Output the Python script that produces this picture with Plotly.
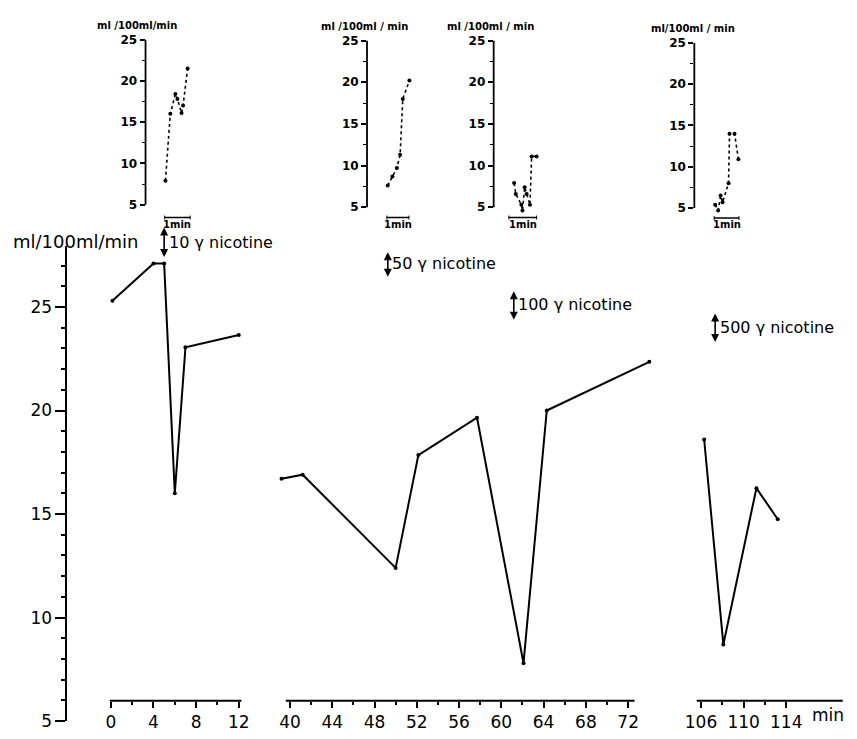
import plotly.graph_objects as go

W, H = 857, 739
FONT = "DejaVu Sans"

# ---------------- data ----------------
# main chart: blood flow (ml/100ml/min) vs time (min), three broken segments
seg1_t = [0.15, 4, 5, 6, 7, 12]
seg1_v = [25.3, 27.1, 27.1, 16.0, 23.05, 23.65]
seg2_t = [39.2, 41.2, 50.0, 52.15, 57.7, 62.1, 64.3, 74.0]
seg2_v = [16.7, 16.9, 12.4, 17.85, 19.65, 7.8, 20.0, 22.35]
seg3_t = [106.3, 108.1, 111.2, 113.2]
seg3_v = [18.6, 8.7, 16.25, 14.75]

# insets: fast recordings after each injection (time in min)
ins1_t = [0.03, 0.22, 0.42, 0.50, 0.66, 0.72, 0.90]
ins1_v = [7.9, 16.0, 18.4, 17.8, 16.1, 17.0, 21.5]
ins2_t = [0.04, 0.25, 0.45, 0.60, 0.72, 1.02]
ins2_v = [7.6, 8.7, 9.7, 11.3, 18.0, 20.2]
ins3_t = [0.19, 0.25, 0.45, 0.49, 0.57, 0.64, 0.76, 0.82, 1.0]
ins3_v = [7.9, 6.6, 5.3, 4.6, 7.4, 6.6, 5.3, 11.1, 11.1]
ins4_t = [0.04, 0.16, 0.26, 0.34, 0.58, 0.62, 0.82, 0.98]
ins4_v = [5.4, 4.7, 6.5, 5.7, 8.0, 14.0, 14.0, 10.9]

# injections: time and label
inj_time = [5.0, 49.26, 61.18, 107.33]
inj_label = ["10 γ nicotine", "50 γ nicotine", "100 γ nicotine", "500 γ nicotine"]

x1_ticks = [0, 4, 8, 12]
x2_ticks = [40, 44, 48, 52, 56, 60, 64, 68, 72]
x3_ticks = [106, 110, 114]
y_ticks = [5, 10, 15, 20, 25]
ins_ticks = [5, 10, 15, 20, 25]
y_title = "ml/100ml/min"
ins_title = ["ml /100ml/min", "ml /100ml / min", "ml /100ml / min", "ml/100ml / min"]


def px(x):
    return x / W


def py(y):
    return 1 - y / H


fig = go.Figure()

line_main = dict(color="black", width=2)
mk_main = dict(color="black", size=4)
fig.add_trace(go.Scatter(x=seg1_t, y=seg1_v, xaxis="x", yaxis="y", mode="lines+markers",
                         line=line_main, marker=mk_main))
fig.add_trace(go.Scatter(x=seg2_t, y=seg2_v, xaxis="x2", yaxis="y", mode="lines+markers",
                         line=line_main, marker=mk_main))
fig.add_trace(go.Scatter(x=seg3_t, y=seg3_v, xaxis="x3", yaxis="y", mode="lines+markers",
                         line=line_main, marker=mk_main))

line_ins = dict(color="black", width=1.6, dash="3px,3px")
mk_ins = dict(color="black", size=4)
for i, (t, v) in enumerate([(ins1_t, ins1_v), (ins2_t, ins2_v), (ins3_t, ins3_v), (ins4_t, ins4_v)]):
    n = i + 4
    fig.add_trace(go.Scatter(x=t, y=v, xaxis=f"x{n}", yaxis=f"y{n}", mode="lines+markers",
                             line=line_ins, marker=mk_ins, cliponaxis=False))

tickfont = dict(family=FONT, size=17, color="black")

# main y axis: 5 at px 731, 21.2 px per unit
y_top = 5 + (731 - 245) / 21.2
layout = dict(
    width=W, height=H, autosize=False,
    margin=dict(l=0, r=0, t=0, b=0),
    paper_bgcolor="white", plot_bgcolor="rgba(0,0,0,0)",
    showlegend=False,
    font=dict(family=FONT, color="black"),
    yaxis=dict(domain=[py(731), py(245)], range=[5, y_top], anchor="free", position=px(62),
               showline=True, linecolor="black", linewidth=2, showgrid=False, zeroline=False,
               tickmode="array", tickvals=y_ticks, ticks="outside", ticklen=10, tickwidth=2,
               tickcolor="black", tickfont=tickfont,
               minor=dict(dtick=1, tick0=5, ticklen=4, tickwidth=1.5, tickcolor="black", ticks="outside")),
)


def xaxis_def(dom_px, t0, t0px, scale, ticks):
    lo = t0 - (t0px - dom_px[0]) / scale
    hi = t0 + (dom_px[1] - t0px) / scale
    return dict(domain=[px(dom_px[0]), px(dom_px[1])], range=[lo, hi], anchor="free",
                position=py(710), showline=False, showgrid=False, zeroline=False,
                tickmode="array", tickvals=ticks, ticks="outside", ticklen=6, tickwidth=2,
                tickcolor="black", tickfont=tickfont,
                minor=dict(tickvals=[a + 2 for a in ticks[:-1]], ticklen=3, tickwidth=1.5,
                           tickcolor="black", ticks="outside"))


layout["xaxis"] = xaxis_def([100, 245], 0, 106.7, 10.75, x1_ticks)
layout["xaxis2"] = xaxis_def([270, 660], 40, 287.3, 10.656, x2_ticks)
layout["xaxis3"] = xaxis_def([690, 850], 106, 701.7, 10.75, x3_ticks)

# inset geometry: axis px, t0 px, px per min, y px of 25, y px of 5, title x, title y, bar y
ins_geo = [
    (141.7, 161.0, 25.7, 33.3, 202.3, 133.0, 18.5, 215.5),
    (365.0, 385.0, 22.3, 34.3, 205.0, 362.0, 20.0, 215.5),
    (492.7, 508.0, 28.0, 34.3, 205.0, 490.0, 20.0, 215.5),
    (695.0, 715.0, 25.0, 36.7, 205.7, 694.0, 22.0, 216.0),
]
shapes = []
annotations = []
ins_lo = 4.3
for i, (axpx, t0px, sc, y25, y5, tx, ty, bary) in enumerate(ins_geo):
    n = i + 4
    right = axpx + 60
    ypu = (y5 - y25) / 20
    bottom_px = y5 + (5 - ins_lo) * ypu
    layout[f"xaxis{n}"] = dict(domain=[px(axpx), px(right)],
                               range=[(axpx - t0px) / sc, (right - t0px) / sc],
                               anchor=f"y{n}", visible=False)
    layout[f"yaxis{n}"] = dict(domain=[py(bottom_px), py(y25)], range=[ins_lo, 25], anchor=f"x{n}",
                               showline=False, showgrid=False, zeroline=False,
                               tickmode="array", tickvals=ins_ticks, ticks="outside", ticklen=5,
                               tickwidth=1.5, tickcolor="black",
                               tickfont=dict(family=FONT, size=12, color="black", weight="bold"),
                               minor=dict(tickvals=[7.5, 12.5, 17.5, 22.5], ticklen=3, tickwidth=1.2,
                                          tickcolor="black", ticks="outside"))
    # inset y axis line from 5 to 25
    shapes.append(dict(type="line", xref=f"x{n} domain", yref=f"y{n}", x0=0, x1=0, y0=5, y1=25,
                       line=dict(color="black", width=1.8)))
    # 1 min scale bar
    shapes.append(dict(type="line", xref=f"x{n}", yref="paper", x0=0, x1=1, y0=py(bary), y1=py(bary),
                       line=dict(color="black", width=1.5)))
    for xe in (0, 1):
        shapes.append(dict(type="line", xref=f"x{n}", yref="paper", x0=xe, x1=xe,
                           y0=py(bary - 2), y1=py(bary + 2), line=dict(color="black", width=1)))
    annotations.append(dict(text="1min", xref=f"x{n}", yref="paper", x=0.5, y=py(bary + 7),
                            showarrow=False, font=dict(family=FONT, size=10, color="black", weight="bold"),
                            xanchor="center", yanchor="middle"))
    annotations.append(dict(text=ins_title[i], xref="paper", yref="paper", x=px(tx), y=py(ty),
                            showarrow=False, font=dict(family=FONT, size=10, color="black", weight="bold"),
                            xanchor="center", yanchor="middle"))

# main x axis lines (broken axis)
for ax, lo, hi in [("x", -0.1, 12.25), ("x2", 39.6, 72.6), ("x3", 105.6, 119.3)]:
    shapes.append(dict(type="line", xref=ax, yref="paper", x0=lo, x1=hi, y0=py(710), y1=py(710),
                       line=dict(color="black", width=2)))

# main y title
annotations.append(dict(text=y_title, xref="paper", yref="paper", x=px(72), y=py(240),
                        showarrow=False, font=dict(family=FONT, size=18, color="black"),
                        xanchor="center", yanchor="middle"))
# min label
annotations.append(dict(text="min", xref="x3", yref="paper", x=117.9, y=py(725),
                        showarrow=False, font=dict(family=FONT, size=17, color="black"),
                        xanchor="center", yanchor="middle"))

# injection arrows and labels
arrow_geo = [(225, 256, 241), (250, 276, 263), (290, 320, 305), (313, 343, 328)]
axes_for_inj = ["x", "x2", "x2", "x3"]
text_dx = [0.25, 0.25, 0.25, 0.25]
for ax, t, lab, (ytop, ybot, ytxt), dx in zip(axes_for_inj, inj_time, inj_label, arrow_geo, text_dx):
    annotations.append(dict(text="", xref=ax, yref="paper", x=t, y=py(ybot), ax=0, ay=-(ybot - ytop),
                            showarrow=True, arrowhead=2, arrowside="end+start", arrowsize=1,
                            arrowwidth=1.6, arrowcolor="black"))
    annotations.append(dict(text=lab, xref=ax, yref="paper", x=t + dx, y=py(ytxt), showarrow=False,
                            font=dict(family=FONT, size=16, color="black"),
                            xanchor="left", yanchor="middle"))

layout["shapes"] = shapes
layout["annotations"] = annotations
fig.update_layout(**layout)
fig.write_html("out.html", config={"displayModeBar": False},
               post_script="document.body.style.margin='0';document.body.style.overflow='hidden';")
